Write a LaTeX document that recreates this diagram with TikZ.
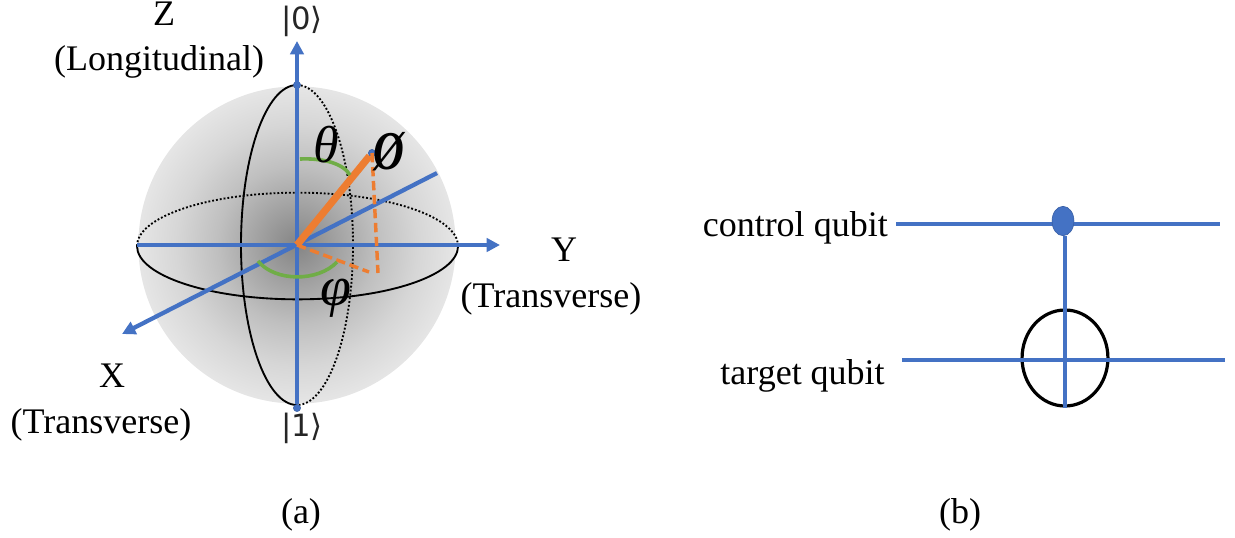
\documentclass[tikz,border=0pt]{standalone}
\usepackage{fontspec}
\setmainfont{Liberation Serif}
\newfontfamily\ketfont{DejaVu Sans}
\usetikzlibrary{arrows.meta,shapes.geometric}
\definecolor{axisblue}{HTML}{4472C4}
\definecolor{vecorange}{HTML}{ED7D31}
\definecolor{arcgreen}{HTML}{70AD47}
\pgfdeclareradialshading{ball}{\pgfpoint{0bp}{0bp}}{
 color(0bp)=(black!48);
 color(6bp)=(black!37);
 color(12.5bp)=(black!25);
 color(19bp)=(black!16);
 color(25bp)=(black!10);
 color(50bp)=(black!10)}
\tikzset{
 txt/.style={inner sep=0pt,font=\fontsize{27}{30}\selectfont,text=black},
 ket/.style={inner sep=0pt,font=\ketfont\fontsize{23}{25}\selectfont,text=black!85},
 sym/.style={inner sep=0pt,font=\fontsize{39}{42}\selectfont\itshape,text=black},
 axis/.style={draw=axisblue,line width=3.2pt},
 axisarrow/.style={axis,-{Triangle[length=10pt,width=10pt]}},
 wire/.style={draw=axisblue,line width=3.2pt},
 thinwire/.style={draw=axisblue,line width=2.7pt},
 rimsolid/.style={draw=black,line width=1.4pt},
 rimdotted/.style={draw=black,line width=1.4pt,dash pattern=on 1.4pt off 1.5pt},
 greenarc/.style={draw=arcgreen,line width=2.7pt},
 dashedorange/.style={draw=vecorange,line width=2.6pt,dash pattern=on 7pt off 3.5pt},
 blobdot/.style={circle,fill=axisblue,draw=axisblue!80!black,line width=.3pt,inner sep=0pt,minimum size=5.5pt},
 ctrldot/.style={ellipse,fill=axisblue,draw=axisblue!85!black,line width=.5pt,inner sep=0pt,minimum width=16.4pt,minimum height=22pt},
 targetring/.style={ellipse,draw=black,line width=2.4pt,inner sep=0pt,minimum width=64.4pt,minimum height=72pt}
}
\begin{document}
\begin{tikzpicture}[x=0.75pt,y=-0.75pt]
\useasboundingbox (0,0) rectangle (1235,537);
% sphere
\shade[shading=ball] (297,245) circle[radius=119pt];
% named points
\coordinate (O) at (297,245);
\coordinate (Ztop) at (297,41);
\coordinate (Xend) at (122,334);
\coordinate (Xback) at (437,173);
\coordinate (Yleft) at (137,245);
\coordinate (Yend) at (500,245);
\coordinate (Foot) at (378,273);
\coordinate (Foot2) at (369,272);
\coordinate (ThA) at (300,159);
\coordinate (ThB) at (350,175);
\coordinate (PhA) at (258,261);
\coordinate (PhB) at (337,262);
% ellipses
\draw[rimsolid] (137,246) arc[start angle=180,end angle=360,x radius=120.4pt,y radius=40pt];
\draw[rimdotted] (137,246) arc[start angle=180,end angle=0,x radius=120.4pt,y radius=40pt];
\draw[rimsolid] (297,85) arc[start angle=90,end angle=270,x radius=42pt,y radius=120pt];
\draw[rimdotted] (297,85) arc[start angle=90,end angle=-90,x radius=42pt,y radius=120pt];
% axes
\node[blobdot] (N0) at (297,85) {};
\node[blobdot] (N1) at (297,408) {};
\draw[axis] (N1) -- (O);
\draw[axisarrow] (O) -- (Ztop);
\draw[axisarrow] (Yleft) -- (Yend);
\draw[axisarrow] (Xback) -- (Xend);
% vector
\node[blobdot] (P) at (372,153) {};
\draw[dashedorange] (P.center) -- (Foot);
\draw[dashedorange] (O) -- (Foot2);
\draw[draw=vecorange,line width=5.4pt] (O) -- (P);
% angle arcs
\draw[greenarc] (ThA) .. controls (322,158) and (343,163) .. (ThB);
\draw[greenarc] (PhA) .. controls (275,282) and (318,282) .. (PhB);
% symbols
\node[sym] (theta) at (326,145) {θ};
\node[sym,font=\fontsize{41}{44}\selectfont\bfseries\itshape] (phiset) at (389,152) {\scalebox{0.78}[1]{Ø}};
\node[sym,font=\fontsize{42}{45}\selectfont\itshape] (phi) at (336,298) {φ};
% labels
\node[ket] (k0) at (302,21) {|0⟩};
\node[ket] (k1) at (302,428) {|1⟩};
\node[txt] (z) at (164,14) {Z};
\node[txt] (zl) at (159,62) {(Longitudinal)};
\node[txt] (y) at (564,250) {Y};
\node[txt] (yl) at (551,299) {(Transverse)};
\node[txt] (x) at (112,376) {X};
\node[txt] (xl) at (101,425) {(Transverse)};
\node[txt] (a) at (301,515) {(a)};
\node[txt] (b) at (960,515) {(b)};
\node[txt,anchor=east] (cq) at (888,228) {control qubit};
\node[txt,anchor=east] (tq) at (885,376) {target qubit};
% circuit
\coordinate (C1) at (896,224);
\coordinate (C2) at (1220,224);
\coordinate (T1) at (902,360);
\coordinate (T2) at (1225,360);
\node[targetring] (ring) at (1065,358) {};
\draw[wire] (C1) -- (C2);
\draw[wire] (T1) -- (T2);
\node[ctrldot] (ctrl) at (1063,221) {};
\draw[thinwire] (ctrl.south -| ring.south) -- (ring.south);
\end{tikzpicture}
\end{document}
